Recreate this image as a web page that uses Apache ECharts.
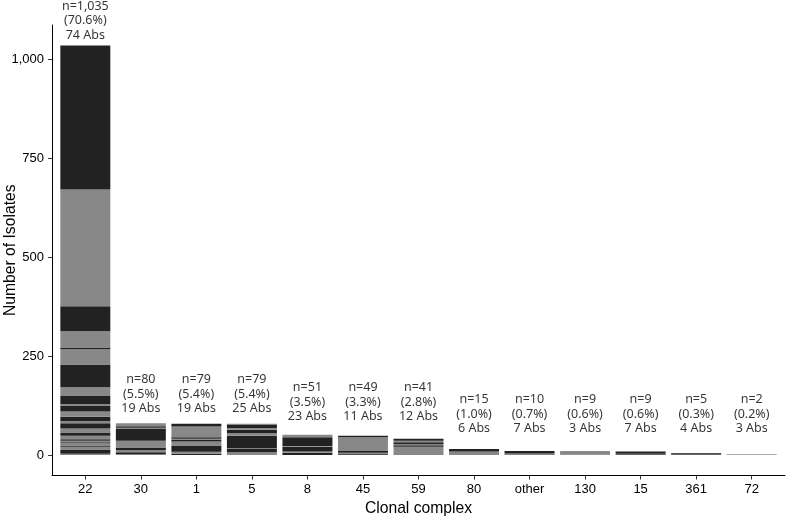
<!DOCTYPE html>
<html>
<head>
<meta charset="utf-8">
<script src="https://cdn.jsdelivr.net/npm/echarts@6/dist/echarts.min.js"></script>
<style>
  html, body { margin: 0; padding: 0; background: #fff; }
  #chart { width: 790px; height: 517px; }
</style>
</head>
<body>
<div id="chart"></div>
<script>
// ---------------- DATA ----------------
const categories = ['22', '30', '1', '5', '8', '45', '59', '80', 'other', '130', '15', '361', '72'];
const isolates = [1035, 80, 79, 79, 51, 49, 41, 15, 10, 9, 9, 5, 2];
const percents = ['70.6%', '5.5%', '5.4%', '5.4%', '3.5%', '3.3%', '2.8%', '1.0%', '0.7%', '0.6%', '0.6%', '0.3%', '0.2%'];
const antibiograms = [74, 19, 19, 25, 23, 11, 12, 6, 7, 3, 7, 4, 3];
const yTicks = [0, 250, 500, 750, 1000];

// stacked antibiogram group sizes, bottom to top (visible groups)
const seg22 = [3, 11, 7, 2, 7, 2, 4, 4, 9, 8, 10, 13, 6, 11, 13, 14, 5, 20, 22, 58, 38, 5, 41, 63, 295, 364];
const seg30 = [2, 5, 6, 6, 17, 31, 2, 4, 7];
const seg1 = [3, 5, 16, 10, 5, 2, 4, 27, 7];
const seg5 = [7, 8, 2, 32, 6, 9, 4, 8, 3];
const seg8 = [6, 3, 12, 2, 22, 6];
const seg45 = [1, 3, 2, 4, 35, 4];
const seg59 = [21, 4, 2, 5, 4, 5];
const seg80 = [7, 1, 1, 6];
const segOther = [2, 1, 1, 6];
const seg130 = [1, 6, 2];
const seg15 = [2, 1, 6];
const seg361 = [2, 1, 2];
const seg72 = [1, 1];
const segmentsByCC = [seg22, seg30, seg1, seg5, seg8, seg45, seg59, seg80, segOther, seg130, seg15, seg361, seg72];

// ---------------- STYLE / LAYOUT ----------------
const DARK = '#222222';
const GRAY = '#888888';
// shade of the bottom group for each bar (0 = dark, 1 = gray)
const firstShade = [1, 1, 0, 1, 0, 1, 1, 1, 1, 0, 0, 0, 0];
const labelAt = n => n > 500 ? n + 7 : n >= 60 ? 98 : n >= 30 ? 78 : 48;

const W = 790, H = 517;
const G = { left: 52, right: 5, top: 25, bottom: 41.5 };
const span = categories.length + 0.2;            // ggplot discrete expansion 0.6 each side
const band = (W - G.left - G.right) / span;
const inset = 0.1 * band;
const Y_MIN = -51.75, Y_MAX = 1086.75;

const maxLayers = Math.max(...segmentsByCC.map(s => s.length));
const series = [];
for (let k = 0; k < maxLayers; k++) {
  series.push({
    type: 'bar',
    stack: 'total',
    xAxisIndex: 1,
    yAxisIndex: 1,
    barWidth: '90%',
    silent: true,
    data: segmentsByCC.map((segs, i) => ({
      value: k < segs.length ? segs[k] : 0,
      itemStyle: { color: ((firstShade[i] + k) % 2 === 0) ? DARK : GRAY }
    }))
  });
}
series.push({
  type: 'scatter',
  xAxisIndex: 0,
  yAxisIndex: 0,
  symbolSize: 0,
  silent: true,
  data: isolates.map((n, i) => [i, labelAt(n)]),
  label: {
    show: true,
    position: 'top',
    distance: 0,
    fontFamily: 'Noto Sans',
    fontSize: 12.5,
    lineHeight: 14.7,
    color: '#000',
    align: 'center',
    formatter: p => {
      const i = p.dataIndex;
      return 'n=' + isolates[i].toLocaleString('en-US') + '\n(' + percents[i] + ')\n' + antibiograms[i] + ' Abs';
    }
  }
});

const tickFont = { fontFamily: 'Liberation Sans', fontSize: 13, color: '#000' };
const titleFont = { fontFamily: 'Liberation Sans', fontSize: 15.7, color: '#000' };
const chart = echarts.init(document.getElementById('chart'), null, { renderer: 'canvas' });
chart.setOption({
  animation: false,
  backgroundColor: '#fff',
  grid: [
    { left: G.left, right: G.right, top: G.top, bottom: G.bottom, containLabel: false, outerBoundsMode: 'none' },
    { left: G.left + inset, right: G.right + inset, top: G.top, bottom: G.bottom, containLabel: false, outerBoundsMode: 'none' }
  ],
  xAxis: [{
    gridIndex: 0,
    type: 'value',
    min: -0.6,
    max: categories.length - 0.4,
    name: 'Clonal complex',
    nameLocation: 'middle',
    nameGap: 25,
    nameMoveOverlap: false,
    nameTextStyle: titleFont,
    axisLine: { show: true, onZero: false, lineStyle: { color: '#000', width: 1 } },
    axisTick: { show: true, length: 4, lineStyle: { color: '#333' }, customValues: categories.map((c, i) => i) },
    axisLabel: Object.assign({
      customValues: categories.map((c, i) => i),
      formatter: v => categories[Math.round(v)],
      margin: 7
    }, tickFont),
    splitLine: { show: false }
  }, {
    gridIndex: 1,
    type: 'category',
    data: categories,
    boundaryGap: true,
    show: false
  }],
  yAxis: [{
    gridIndex: 0,
    type: 'value',
    min: Y_MIN,
    max: Y_MAX,
    name: 'Number of Isolates',
    nameLocation: 'middle',
    nameGap: 33,
    nameRotate: 90,
    nameMoveOverlap: false,
    nameTextStyle: titleFont,
    axisLine: { show: true, onZero: false, lineStyle: { color: '#000', width: 1 } },
    axisTick: { show: true, length: 4, lineStyle: { color: '#333' }, customValues: yTicks },
    axisLabel: Object.assign({
      customValues: yTicks,
      formatter: v => v.toLocaleString('en-US'),
      margin: 8
    }, tickFont),
    splitLine: { show: false }
  }, {
    gridIndex: 1,
    type: 'value',
    min: Y_MIN,
    max: Y_MAX,
    show: false,
    splitLine: { show: false }
  }],
  series: series
});
</script>
</body>
</html>
